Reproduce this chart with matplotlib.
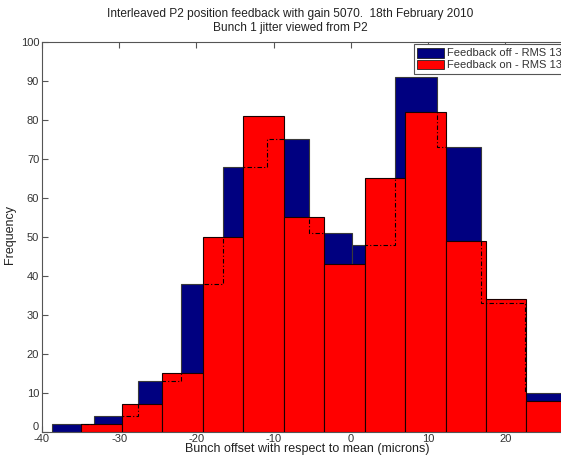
import matplotlib
matplotlib.use("Agg")
import matplotlib.pyplot as plt
from matplotlib.patches import Patch

plt.rcParams['font.family'] = ['Liberation Sans', 'DejaVu Sans']
plt.rcParams['axes.unicode_minus'] = False

# Histogram counts of bunch offset (microns)
off_edges = [-38.7, -33.2, -27.6, -22.0, -16.5, -10.9, -5.4, 0.2, 5.7, 11.2, 16.8, 22.5, 28.1]
off_counts = [2, 4, 13, 38, 68, 75, 51, 48, 91, 73, 33, 10]

on_edges = [-35.0, -29.7, -24.5, -19.2, -14.0, -8.7, -3.5, 1.8, 7.0, 12.3, 17.5, 22.7, 28.0]
on_counts = [2, 7, 15, 50, 81, 55, 43, 65, 82, 49, 34, 8]

labels = ["Feedback off - RMS 13\u00b5m", "Feedback on - RMS 13\u00b5m"]
title_lines = ["Interleaved P2 position feedback with gain 5070.  18th February 2010",
               "Bunch 1 jitter viewed from P2"]
xticks = [-40, -30, -20, -10, 0, 10, 20]
yticks = list(range(0, 101, 10))

W, H = 561, 463
fig = plt.figure(figsize=(W / 100, H / 100), dpi=100)
ax = fig.add_axes([42 / W, 1 - 431.7 / H, (567 - 42) / W, (431.7 - 41.7) / H])

navy = "#000080"
red = "#ff0000"
text_col = "#222222"


def widths(edges):
    return [b - a for a, b in zip(edges[:-1], edges[1:])]


ax.bar(off_edges[:-1], off_counts, width=widths(off_edges), align='edge',
       color=navy, edgecolor="#3a3a3a", linewidth=0.8, zorder=2)
ax.bar(on_edges[:-1], on_counts, width=widths(on_edges), align='edge',
       color=red, edgecolor="#1a0000", linewidth=0.8, zorder=3)

# outline of the feedback-off histogram, shown where it lies under the red bars
clip = ax.stairs(on_counts, on_edges, baseline=0, fill=True,
                 facecolor='none', edgecolor='none', zorder=1)
outline = ax.stairs(off_counts, off_edges, baseline=0, fill=False,
                    color='black', linewidth=0.8,
                    linestyle=(0, (4, 2, 1, 2)), zorder=4)
outline.set_clip_path(clip)

ax.set_xlim(-40, 28)
ax.set_ylim(0, 100)
ax.set_xticks(xticks)
ax.set_yticks(yticks)
ax.tick_params(direction='in', top=True, right=True, length=4, width=0.8,
               labelsize=8, colors='#555555', labelcolor='#333333', pad=2)
ax.get_yticklabels()[0].set_verticalalignment('bottom')
for s in ax.spines.values():
    s.set_color('#555555')
    s.set_linewidth(0.8)

fig.text(10 / W, 1 - 235 / H, "Frequency", rotation=90, ha='center',
         va='center', fontsize=9, color=text_col)
fig.text(307 / W, 1 - 449 / H, "Bunch offset with respect to mean (microns)",
         ha='center', va='center', fontsize=9, color=text_col)
fig.text(290 / W, 1 - 14 / H, title_lines[0], ha='center', va='center',
         fontsize=8.6, color=text_col)
fig.text(290 / W, 1 - 28 / H, title_lines[1], ha='center', va='center',
         fontsize=8.6, color=text_col)

handles = [Patch(facecolor=navy, edgecolor='#222222', linewidth=0.6),
           Patch(facecolor=red, edgecolor='#222222', linewidth=0.6)]
leg = fig.legend(handles, labels, loc='upper left',
                 bbox_to_anchor=(414 / W, 1 - 44.3 / H),
                 bbox_transform=fig.transFigure, borderaxespad=0,
                 fontsize=8, frameon=True, fancybox=False, framealpha=1,
                 edgecolor='#555555', handlelength=2.4, handleheight=1.0,
                 handletextpad=0.3, labelspacing=0.1, borderpad=0.3)
leg.get_frame().set_linewidth(0.8)
for t in leg.get_texts():
    t.set_color('#333333')

fig.savefig("out.png", dpi=100)
